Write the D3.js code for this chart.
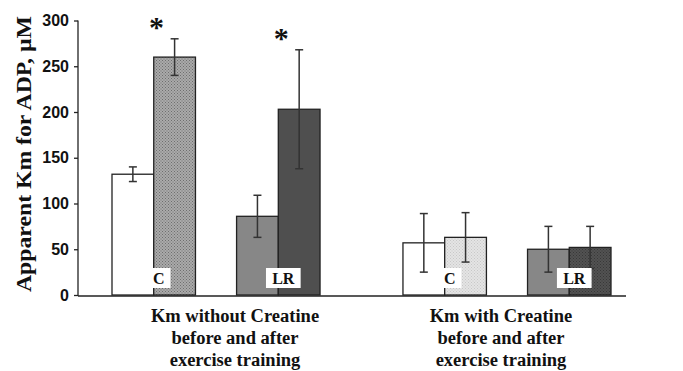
<!DOCTYPE html>
<html>
<head>
<meta charset="utf-8">
<script src="https://cdn.jsdelivr.net/npm/d3@7"></script>
<style>
  body { margin: 0; background: #fff; }
  svg { display: block; }
</style>
</head>
<body>
<div id="chart"></div>
<script>
// data
var groups = ["without", "with"];
var groupLabels = [
    ["Km without Creatine", "before and after", "exercise training"],
    ["Km with Creatine", "before and after", "exercise training"]
];
var subjects = ["C", "LR"];
var phases = ["before", "after"];
// means [group][subject][phase]
var means = [
    [[132, 260], [86, 203]],
    [[57, 63], [50, 52]]
];
var errors = [
    [[8, 20], [23, 65]],
    [[32, 27], [25, 23]]
];
// asterisk above these bars
var significant = [
    [[false, true], [false, true]],
    [[false, false], [false, false]]
];
var yTicks = [0, 50, 100, 150, 200, 250, 300];
var yTitle = "Apparent Km for ADP, \u00b5M";

var width = 683, height = 371;
var svg = d3.select("#chart").append("svg").attr("width", width).attr("height", height);

var defs = svg.append("defs");
function dotPattern(id, bg, fg) {
    var p = defs.append("pattern").attr("id", id).attr("patternUnits", "userSpaceOnUse")
        .attr("width", 3).attr("height", 3);
    p.append("rect").attr("width", 3).attr("height", 3).attr("fill", bg);
    p.append("rect").attr("x", 0).attr("y", 0).attr("width", 1).attr("height", 1).attr("fill", fg);
    p.append("rect").attr("x", 1.5).attr("y", 1.5).attr("width", 1).attr("height", 1).attr("fill", fg);
}
dotPattern("hatchMid", "#aaaaaa", "#6e6e6e");
dotPattern("hatchLight", "#e4e4e4", "#c8c8c8");
dotPattern("hatchDark", "#525252", "#383838");

// fill per [group][subject][phase]
var fills = [
    [["#ffffff", "url(#hatchMid)"], ["#878787", "#4f4f4f"]],
    [["#ffffff", "url(#hatchLight)"], ["#878787", "url(#hatchDark)"]]
];

var y = d3.scaleLinear().domain([0, 300]).range([295, 20.5]);
var x0 = d3.scaleBand().domain(groups).range([112, 611]).paddingInner(0.285);
var x1 = d3.scaleBand().domain(subjects).range([0, x0.bandwidth()]).paddingInner(0.33);
var x2 = d3.scaleBand().domain(phases).range([0, x1.bandwidth()]);

// y axis
var yAxis = d3.axisLeft(y).tickValues(yTicks).tickSize(4).tickPadding(5);
var gy = svg.append("g").attr("transform", "translate(78,0)").call(yAxis);
gy.select(".domain").attr("stroke", "#222").attr("stroke-width", 1.3).attr("d", "M0," + y(300) + "V" + (y(0) + 1));
gy.selectAll(".tick line").attr("stroke", "#222").attr("stroke-width", 1.3);
gy.selectAll(".tick text").style("font-family", "'Liberation Sans', Arial, sans-serif")
    .style("font-weight", "bold").style("font-size", "16px").attr("fill", "#111");

svg.append("text")
    .attr("transform", "translate(31,154) rotate(-90)")
    .attr("text-anchor", "middle")
    .attr("textLength", 276).attr("lengthAdjust", "spacingAndGlyphs")
    .style("font-family", "'Liberation Serif', 'Times New Roman', serif")
    .style("font-weight", "bold").style("font-size", "21px").attr("fill", "#111")
    .text(yTitle);

// bars
var bars = [];
groups.forEach(function(g, gi) {
    subjects.forEach(function(s, si) {
        phases.forEach(function(p, pi) {
            bars.push({ g: g, s: s, p: p, gi: gi, si: si, pi: pi,
                mean: means[gi][si][pi], err: errors[gi][si][pi],
                sig: significant[gi][si][pi], fill: fills[gi][si][pi] });
        });
    });
});
function bx(d) { return x0(d.g) + x1(d.s) + x2(d.p); }

svg.append("g").selectAll("rect").data(bars).enter().append("rect")
    .attr("x", bx)
    .attr("y", d => y(d.mean))
    .attr("width", x2.bandwidth())
    .attr("height", d => y(0) - y(d.mean))
    .attr("fill", d => d.fill)
    .attr("stroke", "#222").attr("stroke-width", 1.3);

// error bars
var eb = svg.append("g").attr("stroke", "#333").attr("stroke-width", 1.5);
bars.forEach(function(d) {
    var cx = bx(d) + x2.bandwidth() / 2;
    eb.append("line").attr("x1", cx).attr("x2", cx).attr("y1", y(d.mean + d.err)).attr("y2", y(d.mean - d.err));
    [d.mean + d.err, d.mean - d.err].forEach(function(v) {
        eb.append("line").attr("x1", cx - 4).attr("x2", cx + 4).attr("y1", y(v)).attr("y2", y(v));
    });
});

// asterisks
svg.append("g").selectAll("text").data(bars.filter(d => d.sig)).enter().append("text")
    .attr("x", d => bx(d) + x2.bandwidth() / 2 - 18)
    .attr("y", d => y(d.mean + d.err) - 2)
    .attr("text-anchor", "middle")
    .style("font-family", "'Liberation Serif', 'Times New Roman', serif")
    .style("font-weight", "bold").style("font-size", "30px").attr("fill", "#111")
    .text("*");

// subject label boxes
subjects.forEach(function(s) {
    groups.forEach(function(g) {
        var cx = x0(g) + x1(s) + x2("after") + 5;
        var t = svg.append("text")
            .attr("x", cx).attr("y", 284)
            .attr("text-anchor", "middle")
            .style("font-family", "'Liberation Serif', 'Times New Roman', serif")
            .style("font-weight", "bold").style("font-size", "16px").attr("fill", "#111")
            .text(s);
        var bb = t.node().getBBox();
        svg.insert("rect", function() { return t.node(); })
            .attr("x", cx - bb.width / 2 - 6).attr("y", 268)
            .attr("width", bb.width + 12).attr("height", 20)
            .attr("fill", "#fff");
    });
});

// baseline
svg.append("line").attr("x1", 78).attr("x2", 626).attr("y1", y(0) + 1).attr("y2", y(0) + 1)
    .attr("stroke", "#222").attr("stroke-width", 1.5);

// group labels
var labelShift = [19, -6];
groups.forEach(function(g, gi) {
    var t = svg.append("text")
        .attr("text-anchor", "middle")
        .style("font-family", "'Liberation Serif', 'Times New Roman', serif")
        .style("font-weight", "bold").style("font-size", "18.5px").attr("fill", "#111");
    groupLabels[gi].forEach(function(line, li) {
        t.append("tspan").attr("x", x0(g) + x0.bandwidth() / 2 + labelShift[gi]).attr("y", 322 + li * 22).text(line);
    });
});
</script>
</body>
</html>
